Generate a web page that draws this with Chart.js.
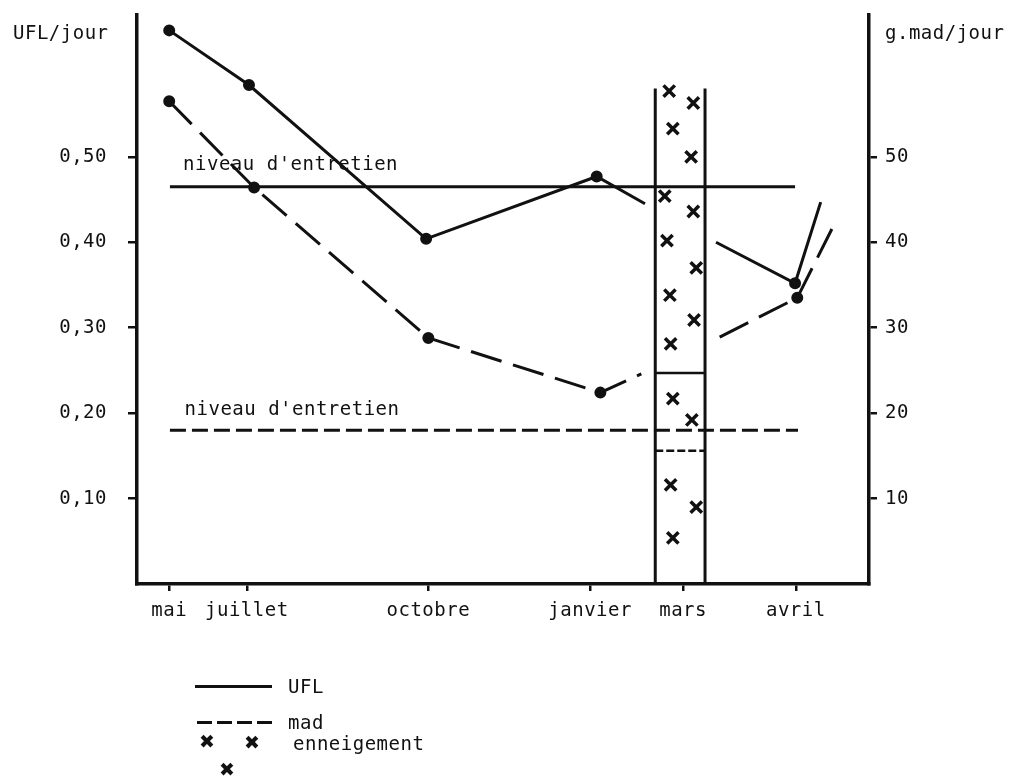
<!DOCTYPE html>
<html lang="fr">
<head>
<meta charset="UTF-8">
<title>UFL et mad par jour</title>
<script src="https://cdn.jsdelivr.net/npm/chart.js"></script>
<style>
    body { margin: 0; background: #fff; }
    #wrap { position: relative; width: 1011px; height: 778px; font-family: "DejaVu Sans Mono", monospace; color: #111; }
    .txt { position: absolute; font-size: 19px; letter-spacing: 0.5px; line-height: 1; white-space: nowrap; }
    .sample { position: absolute; width: 77px; height: 3px; }
    .snow { position: absolute; font-family: "DejaVu Sans", sans-serif; font-size: 19px; line-height: 1; }
</style>
</head>
<body>
<div id="wrap">
    <canvas id="chart"></canvas>
    <div class="txt" style="left:13px; top:23px;">UFL/jour</div>
    <div class="txt" style="left:885px; top:23px;">g.mad/jour</div>

    <!-- legende -->
    <div class="sample" style="left:195px; top:685px; background:#111;"></div>
    <div class="txt" style="left:288px; top:677px;">UFL</div>
    <div class="sample" style="left:197px; top:721px; background:repeating-linear-gradient(to right, #111 0 15px, transparent 15px 20px);"></div>
    <div class="txt" style="left:288px; top:713px;">mad</div>
    <div class="snow" style="left:199px; top:732px;">✖</div>
    <div class="snow" style="left:219px; top:760px;">✖</div>
    <div class="snow" style="left:244px; top:733px;">✖</div>
    <div class="txt" style="left:293px; top:734px;">enneigement</div>
</div>

<script>
// mois et position sur l'axe du temps (0-100)
const months = ['mai', 'juillet', 'octobre', 'janvier', 'mars', 'avril'];
const monthPos = [4.4, 15.0, 39.8, 61.9, 74.6, 90.0];

// UFL / jour (axe gauche) - null = interruption par l'enneigement
const uflX = [4.4, 15.3, 39.5, 62.8, 69.4, 74.0, 79.1, 89.9, 93.4];
const uflY = [0.648, 0.584, 0.404, 0.477, 0.445, null, 0.400, 0.352, 0.447];
const uflMeasured = [true, true, true, true, false, false, false, true, false];

// g mad / jour (axe droit)
const madX = [4.4, 16.0, 39.8, 63.3, 68.9, 74.0, 79.6, 90.2, 95.6];
const madY = [56.5, 46.4, 28.8, 22.4, 24.6, null, 28.9, 33.5, 42.7];
const madMeasured = [true, true, true, true, false, false, false, true, false];

// niveaux d'entretien
const niveauUFL = 0.465;
const niveauMad = 18.0;
const niveauFrom = 4.5;
const niveauToUFL = 89.9;
const niveauToMad = 90.3;

// periode d'enneigement (mars)
const snowFrom = 70.8;
const snowTo = 77.6;
const snowTop = 58.0;       // en g mad
const snowUFL = 0.247;
const snowMad = 15.6;
const snowX = [72.7, 76.0, 73.2, 75.7, 72.1, 76.0, 72.4, 76.4, 72.8, 76.1, 72.9, 73.2, 75.8, 72.9, 76.4, 73.2];
const snowY = [57.7, 56.3, 53.3, 50.0, 45.4, 43.6, 40.2, 37.0, 33.8, 30.9, 28.1, 21.7, 19.2, 11.6, 9.0, 5.4];

// graduations
const leftTicks = [0.1, 0.2, 0.3, 0.4, 0.5];
const leftTickLabels = ['0,10', '0,20', '0,30', '0,40', '0,50'];
const rightTicks = [10, 20, 30, 40, 50];
const rightTickLabels = ['10', '20', '30', '40', '50'];

// textes "niveau d'entretien"
const noteText = ["niveau d'entretien", "niveau d'entretien"];
const noteX = [6.3, 6.5];
const noteY = [0.49, 20.4];
const noteAxis = ['yL', 'yR'];

const INK = '#111';
const FONT = { family: '"DejaVu Sans Mono", monospace', size: 19 };

const pts = (xs, ys) => xs.map((x, i) => ({ x: x, y: ys[i] }));

const textSpacing = {
    id: 'textSpacing',
    beforeDraw(chart) { chart.ctx.letterSpacing = '0.5px'; }
};

const notes = {
    id: 'notes',
    afterDatasetsDraw(chart) {
        const ctx = chart.ctx;
        ctx.save();
        ctx.font = FONT.size + 'px ' + FONT.family;
        ctx.fillStyle = INK;
        ctx.textAlign = 'left';
        ctx.textBaseline = 'middle';
        noteText.forEach((t, i) => {
            const x = chart.scales.x.getPixelForValue(noteX[i]);
            const y = chart.scales[noteAxis[i]].getPixelForValue(noteY[i]);
            ctx.fillText(t, x, y);
        });
        ctx.restore();
    }
};

// largeur fixe des axes, sans marge pour les etiquettes
const fixY = w => s => { s.width = w; s.paddingTop = 0; s.paddingBottom = 0; };

new Chart(document.getElementById('chart'), {
    type: 'scatter',
    data: {
        datasets: [
            {
                label: 'UFL',
                data: pts(uflX, uflY),
                yAxisID: 'yL',
                showLine: true,
                spanGaps: false,
                borderColor: INK,
                backgroundColor: INK,
                borderWidth: 3,
                pointRadius: c => uflMeasured[c.dataIndex] ? 4.5 : 0
            },
            {
                label: 'mad',
                data: pts(madX, madY),
                yAxisID: 'yR',
                showLine: true,
                spanGaps: false,
                borderColor: INK,
                backgroundColor: INK,
                borderWidth: 3,
                borderDash: [32, 12],
                pointRadius: c => madMeasured[c.dataIndex] ? 4.5 : 0
            },
            {
                label: 'niveau UFL',
                data: [{ x: niveauFrom, y: niveauUFL }, { x: niveauToUFL, y: niveauUFL }],
                yAxisID: 'yL',
                showLine: true,
                borderColor: INK,
                borderWidth: 3,
                pointRadius: 0
            },
            {
                label: 'niveau mad',
                data: [{ x: niveauFrom, y: niveauMad }, { x: niveauToMad, y: niveauMad }],
                yAxisID: 'yR',
                showLine: true,
                borderColor: INK,
                borderWidth: 3,
                borderDash: [16, 6],
                pointRadius: 0
            },
            {
                label: 'UFL enneigement',
                data: [{ x: snowFrom, y: snowUFL }, { x: snowTo, y: snowUFL }],
                yAxisID: 'yL',
                showLine: true,
                borderColor: INK,
                borderWidth: 2.5,
                pointRadius: 0
            },
            {
                label: 'mad enneigement',
                data: [{ x: snowFrom, y: snowMad }, { x: snowTo, y: snowMad }],
                yAxisID: 'yR',
                showLine: true,
                borderColor: INK,
                borderWidth: 2.5,
                borderDash: [8, 3],
                pointRadius: 0
            },
            {
                label: 'cadre enneigement',
                data: [
                    { x: snowFrom, y: 0 }, { x: snowFrom, y: snowTop }, { x: snowFrom + 0.01, y: null },
                    { x: snowTo, y: snowTop }, { x: snowTo, y: 0 }
                ],
                yAxisID: 'yR',
                showLine: true,
                spanGaps: false,
                borderColor: INK,
                borderWidth: 3,
                pointRadius: 0
            },
            {
                label: 'enneigement',
                data: pts(snowX, snowY),
                yAxisID: 'yR',
                showLine: false,
                pointStyle: 'crossRot',
                pointRadius: 8,
                borderColor: INK,
                borderWidth: 3.5
            }
        ]
    },
    options: {
        responsive: true,
        maintainAspectRatio: false,
        animation: false,
        layout: { padding: { top: 15, left: 0, right: 0, bottom: 0 } },
        plugins: {
            legend: { display: false },
            tooltip: { enabled: false }
        },
        scales: {
            x: {
                type: 'linear',
                min: 0,
                max: 100,
                afterBuildTicks: s => { s.ticks = monthPos.map(v => ({ value: v })); },
                afterFit: s => { s.height = 194; s.paddingLeft = 0; s.paddingRight = 0; },
                ticks: {
                    autoSkip: false,
                    maxRotation: 0,
                    padding: 9,
                    color: INK,
                    font: FONT,
                    callback: (v, i) => months[i]
                },
                grid: { drawOnChartArea: false, drawTicks: true, tickLength: 7, color: INK, lineWidth: 2.5 },
                border: { display: true, color: INK, width: 3.5 }
            },
            yL: {
                position: 'left',
                min: 0,
                max: 0.666,
                afterBuildTicks: s => { s.ticks = leftTicks.map(v => ({ value: v })); },
                afterFit: fixY(137),
                ticks: {
                    padding: 21,
                    color: INK,
                    font: FONT,
                    callback: (v, i) => leftTickLabels[i]
                },
                grid: { drawOnChartArea: false, drawTicks: true, tickLength: 9, color: INK, lineWidth: 2.5 },
                border: { display: true, color: INK, width: 3.5 }
            },
            yR: {
                position: 'right',
                min: 0,
                max: 66.6,
                afterBuildTicks: s => { s.ticks = rightTicks.map(v => ({ value: v })); },
                afterFit: fixY(142),
                ticks: {
                    padding: 8,
                    color: INK,
                    font: FONT,
                    callback: (v, i) => rightTickLabels[i]
                },
                grid: { drawOnChartArea: false, drawTicks: true, tickLength: 8, color: INK, lineWidth: 2.5 },
                border: { display: true, color: INK, width: 3.5 }
            }
        }
    },
    plugins: [textSpacing, notes]
});
</script>
</body>
</html>
